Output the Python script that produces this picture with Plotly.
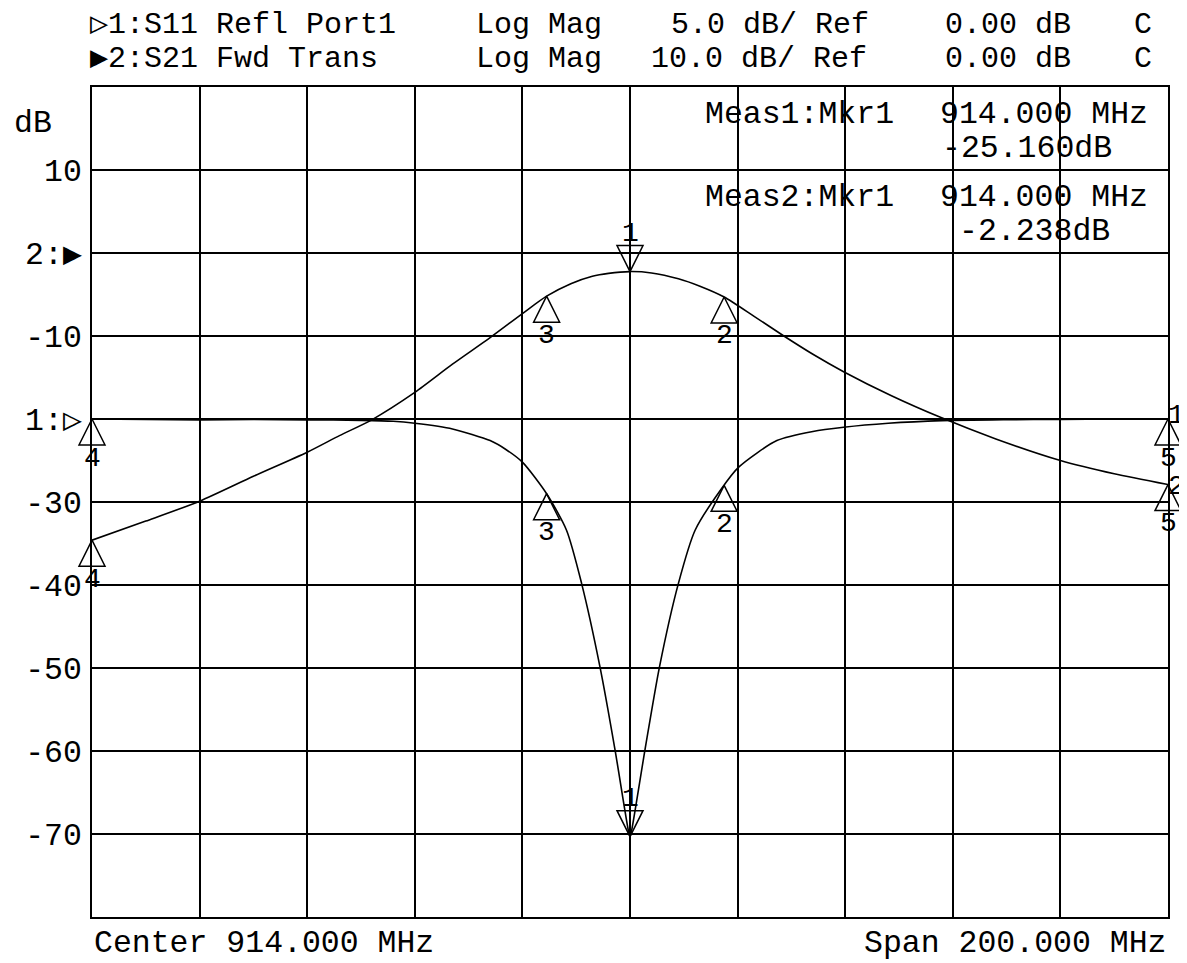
import numpy as np
import plotly.graph_objects as go

# S21 forward transmission, dB (10 dB/div, ref 0 dB)
freq_s21 = [814, 824, 834, 844, 854, 860, 866, 874, 881, 888, 894, 898.5, 903, 907,
            910, 914, 918, 923, 927, 931.5, 937, 942.6, 948, 953.7, 962.6, 971.7,
            982, 994, 1004, 1014]
s21_db = [-34.6, -32.3, -29.9, -26.9, -24.0, -22.0, -20.1, -16.8, -13.4, -10.2, -7.3,
          -5.2, -3.7, -2.8, -2.45, -2.238, -2.4, -3.1, -4.0, -5.3, -7.6, -10.0, -12.2,
          -14.3, -17.2, -19.8, -22.4, -25.0, -26.6, -27.9]

# S11 reflection port 1, dB (5 dB/div, ref 0 dB)
freq_s11 = [814, 824, 834, 844, 854, 864, 870, 874, 881, 888, 891, 894, 898.5, 902.2,
            905, 908.4, 911.2, 913.7, 914, 914.3, 916.8, 919.5, 923, 926.1, 931, 934.2,
            941.3, 948, 953.7, 962, 972, 984, 994, 1004, 1014]
s11_db = [0.0, -0.03, -0.05, -0.03, -0.05, -0.08, -0.14, -0.26, -0.6, -1.3, -1.85, -2.6,
          -4.5, -6.7, -9.9, -14.9, -19.9, -24.8, -25.16, -24.8, -19.9, -14.9, -9.9, -6.7,
          -4.2, -2.9, -1.3, -0.75, -0.5, -0.26, -0.1, -0.04, -0.02, 0.0, 0.0]

marker_labels = ["1", "2", "3", "4", "5"]
marker_freqs = [914.0, 931.5, 898.5, 814.0, 1014.0]

y_tickvals = [20, 10, 0, -10, -20, -30, -40, -50, -60, -70, -80]
y_ticktext = ["", "10", "2:\u25B6", "-10", "1:\u25B7", "-30", "-40", "-50", "-60", "-70", ""]

# ---------------- layout helpers ----------------
# the page body has an 8 px margin, so the figure is drawn 8 px in from the corner
BODY = 8
FIG_W, FIG_H = 1179, 955
PLOT_X0, PLOT_X1 = 92, 1168      # page pixels of the grid box
PLOT_Y0, PLOT_Y1 = 87, 917
L = PLOT_X0 - BODY
T = PLOT_Y0 - BODY
R = FIG_W - L - (PLOT_X1 - PLOT_X0)
B = FIG_H - T - (PLOT_Y1 - PLOT_Y0)
FONT = "Liberation Mono, DejaVu Sans Mono, monospace"
FS = 31.5


def px(xp):
    return (xp - PLOT_X0) / (PLOT_X1 - PLOT_X0)


def py(yp):
    return (PLOT_Y1 - yp) / (PLOT_Y1 - PLOT_Y0)


fig = go.Figure()

trace_line = dict(color="black", width=1.6, shape="spline", smoothing=0.7)
fig.add_trace(go.Scatter(x=freq_s11, y=s11_db, yaxis="y2", mode="lines",
                         line=trace_line, showlegend=False, hoverinfo="skip"))
fig.add_trace(go.Scatter(x=freq_s21, y=s21_db, yaxis="y", mode="lines",
                         line=trace_line, showlegend=False, hoverinfo="skip"))

m11 = np.interp(marker_freqs, freq_s11, s11_db)
m21 = np.interp(marker_freqs, freq_s21, s21_db)

annotations = []
for vals, yax in ((m11, "y2"), (m21, "y")):
    fig.add_trace(go.Scatter(
        x=marker_freqs[:1], y=list(vals[:1]), yaxis=yax, mode="markers",
        marker=dict(symbol="arrow-down-open", size=26, color="black",
                    line=dict(color="black", width=1.5)),
        cliponaxis=False, showlegend=False, hoverinfo="skip"))
    fig.add_trace(go.Scatter(
        x=marker_freqs[1:], y=list(vals[1:]), yaxis=yax, mode="markers",
        marker=dict(symbol="arrow-up-open", size=26, color="black",
                    line=dict(color="black", width=1.5)),
        cliponaxis=False, showlegend=False, hoverinfo="skip"))
    for lab, f, v in zip(marker_labels, marker_freqs, vals):
        annotations.append(dict(
            x=f, y=v, xref="x", yref=yax, text=lab, showarrow=False,
            yshift=38 if lab == "1" else -39,
            font=dict(family=FONT, size=28, color="black")))

# trace numbers at the right end of each trace
annotations.append(dict(x=freq_s11[-1], y=s11_db[-1], xref="x", yref="y2", text="1",
                        showarrow=False, xshift=8, yshift=4,
                        font=dict(family=FONT, size=28, color="black")))
annotations.append(dict(x=freq_s21[-1], y=s21_db[-1], xref="x", yref="y", text="2",
                        showarrow=False, xshift=8, yshift=-2,
                        font=dict(family=FONT, size=28, color="black")))


def txt(s, xp, yp, anchor="left", size=FS):
    annotations.append(dict(x=px(xp), y=py(yp), xref="paper", yref="paper", text=s,
                            showarrow=False, xanchor=anchor, yanchor="middle",
                            font=dict(family=FONT, size=size, color="black")))


# header
HY1, HY2, HFS = 25, 59, 30
txt("\u25B71:S11 Refl Port1", 88, HY1, size=HFS)
txt("Log Mag", 474, HY1, size=HFS)
txt("5.0 dB/ Ref", 669, HY1, size=HFS)
txt("0.00 dB", 943, HY1, size=HFS)
txt("C", 1132, HY1, size=HFS)
txt("\u25B62:S21 Fwd Trans", 88, HY2, size=HFS)
txt("Log Mag", 474, HY2, size=HFS)
txt("10.0 dB/ Ref", 649, HY2, size=HFS)
txt("0.00 dB", 943, HY2, size=HFS)
txt("C", 1132, HY2, size=HFS)

# marker readouts
txt("Meas1:Mkr1", 703, 114)
txt("914.000 MHz", 938, 114)
txt("-25.160dB", 940, 149)
txt("Meas2:Mkr1", 703, 197)
txt("914.000 MHz", 938, 197)
txt("-2.238dB", 957, 232)

# axis unit and footer
txt("dB", 12, 123)
txt("Center 914.000 MHz", 92, 943)
txt("Span 200.000 MHz", 1168, 943, anchor="right")

fig.update_layout(
    width=FIG_W, height=FIG_H,
    margin=dict(l=L, r=R, t=T, b=B, pad=0),
    paper_bgcolor="white", plot_bgcolor="white",
    showlegend=False,
    annotations=annotations,
    xaxis=dict(range=[814, 1014], tick0=814, dtick=20, showgrid=True,
               gridcolor="black", gridwidth=1.6, showticklabels=False,
               zeroline=False, showline=True, mirror=True, linecolor="black",
               linewidth=1.6, ticks="", automargin=False),
    yaxis=dict(range=[-80, 20], tickmode="array", tickvals=y_tickvals,
               ticktext=y_ticktext, showgrid=True, gridcolor="black", gridwidth=1.6,
               zeroline=False, showline=True, mirror=True, linecolor="black",
               linewidth=1.6, ticks="", ticklabelstandoff=2, automargin=False,
               tickfont=dict(family=FONT, size=FS, color="black")),
    yaxis2=dict(range=[-30, 20], overlaying="y", visible=False),
)

fig.write_html("out.html")
